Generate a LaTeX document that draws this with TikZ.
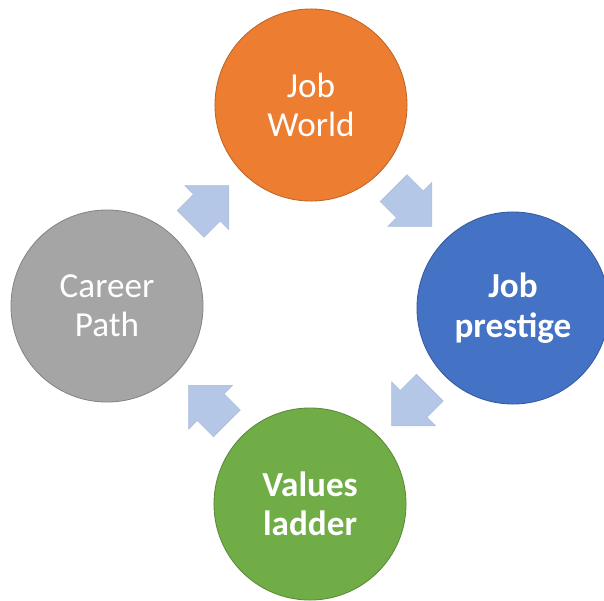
\documentclass[tikz,border=0pt]{standalone}
\usepackage{fontspec}
\setmainfont{Carlito}
\usetikzlibrary{calc}

\definecolor{jworange}{HTML}{ED7D31}
\definecolor{jpblue}{HTML}{4472C4}
\definecolor{vlgreen}{HTML}{70AD47}
\definecolor{cpgray}{HTML}{A5A5A5}
\definecolor{flowblue}{HTML}{B4C7E7}

\begin{document}
\begin{tikzpicture}[x=0.025cm, y=-0.025cm,
    ring/.style={circle, minimum size=4.8cm, inner sep=0pt, align=center,
        text=white, font=\fontsize{25}{28}\selectfont, line width=0.6pt},
    flow/.pic={
        \filldraw[fill=flowblue, draw=flowblue!85!gray, line width=0.3pt]
            (28,0) -- (-3,31) -- (-3,19) -- (-26,19) -- (-26,-19) -- (-3,-19) -- (-3,-31) -- cycle;
    }]
    \useasboundingbox (0,0) rectangle (604,600);

    % Draw the four stages
    \node[ring, fill=jworange, draw=jworange!80!black] (jw) at (311,105) {Job\\World};
    \node[ring, fill=jpblue, draw=jpblue!80!black, font=\fontsize{25}{28}\selectfont\bfseries] (jp) at (513,308) {Job\\prestige};
    \node[ring, fill=vlgreen, draw=vlgreen!80!black, font=\fontsize{25}{28}\selectfont\bfseries] (vl) at (310,504) {Values\\ladder};
    \node[ring, fill=cpgray, draw=cpgray!80!black] (cp) at (107,306) {Career\\Path};

    % Block arrows between neighbouring stages
    \foreach \a/\b/\ang in {cp/jw/45, jw/jp/-45, jp/vl/-135, vl/cp/135} {
        \pic[rotate=\ang] at ($(\a)!0.5!(\b)$) {flow};
    }
\end{tikzpicture}
\end{document}
